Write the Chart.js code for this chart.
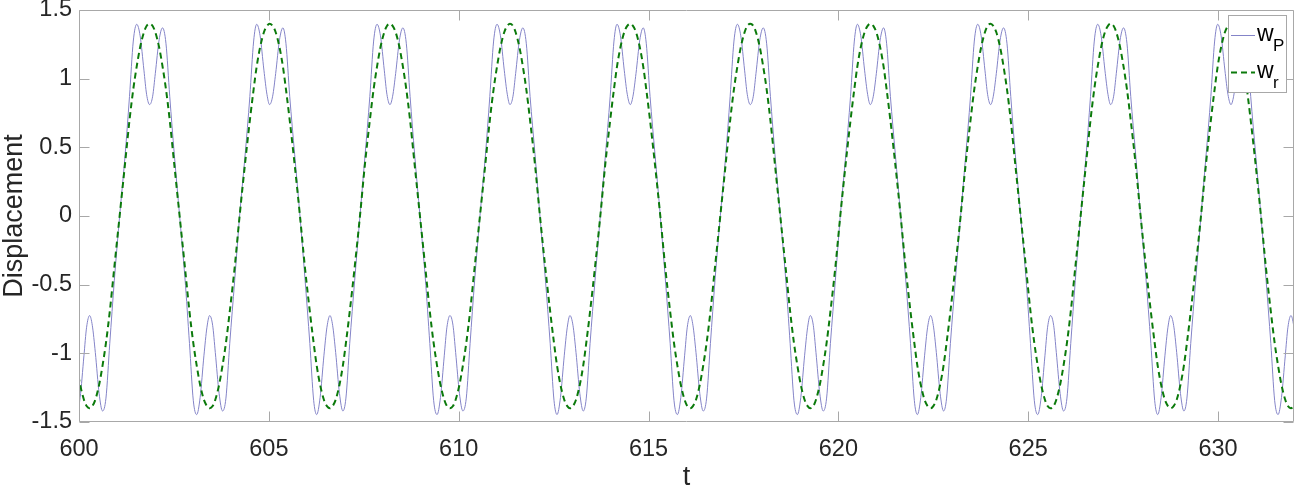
<!DOCTYPE html>
<html>
<head>
<meta charset="utf-8">
<script src="https://cdn.jsdelivr.net/npm/chart.js@4.4.1/dist/chart.umd.min.js"></script>
<style>
  html, body { margin: 0; padding: 0; background: #fff; }
</style>
</head>
<body>
<canvas id="disp_chart" width="1298" height="489"></canvas>
<script>
// tick labels
var xTicks = [600, 605, 610, 615, 620, 625, 630];
var yTicks = [-1.5, -1, -0.5, 0, 0.5, 1, 1.5];

// time samples (one row per half period)
var tValues = [
  599.85, 599.94, 600.03, 600.13, 600.20, 600.28, 600.35, 600.43, 600.53, 600.62, 600.71, 600.81, 600.93,
  601.07, 601.21, 601.33, 601.43, 601.52, 601.61, 601.71, 601.78, 601.86, 601.94, 602.01, 602.11, 602.20, 602.29, 602.39, 602.51,
  602.65, 602.79, 602.91, 603.01, 603.10, 603.19, 603.29, 603.37, 603.44, 603.52, 603.59, 603.69, 603.78, 603.87, 603.97, 604.10,
  604.23, 604.37, 604.50, 604.60, 604.68, 604.77, 604.87, 604.95, 605.02, 605.10, 605.18, 605.28, 605.37, 605.45, 605.55, 605.68,
  605.82, 605.95, 606.08, 606.18, 606.26, 606.35, 606.45, 606.53, 606.61, 606.68, 606.76, 606.86, 606.95, 607.03, 607.13, 607.26,
  607.40, 607.53, 607.66, 607.76, 607.85, 607.94, 608.04, 608.11, 608.19, 608.26, 608.34, 608.44, 608.53, 608.62, 608.72, 608.84,
  608.98, 609.12, 609.24, 609.34, 609.43, 609.52, 609.62, 609.69, 609.77, 609.85, 609.92, 610.02, 610.11, 610.20, 610.30, 610.42,
  610.56, 610.70, 610.82, 610.92, 611.01, 611.10, 611.20, 611.28, 611.35, 611.43, 611.50, 611.60, 611.69, 611.78, 611.88, 612.01,
  612.14, 612.28, 612.41, 612.51, 612.59, 612.68, 612.78, 612.86, 612.93, 613.01, 613.09, 613.19, 613.28, 613.36, 613.46, 613.59,
  613.73, 613.86, 613.99, 614.09, 614.17, 614.26, 614.36, 614.44, 614.52, 614.59, 614.67, 614.77, 614.86, 614.94, 615.04, 615.17,
  615.31, 615.44, 615.57, 615.67, 615.76, 615.85, 615.95, 616.02, 616.10, 616.17, 616.25, 616.35, 616.44, 616.53, 616.63, 616.75,
  616.89, 617.03, 617.15, 617.25, 617.34, 617.43, 617.53, 617.60, 617.68, 617.76, 617.83, 617.93, 618.02, 618.11, 618.21, 618.33,
  618.47, 618.61, 618.73, 618.83, 618.92, 619.01, 619.11, 619.19, 619.26, 619.34, 619.41, 619.51, 619.60, 619.69, 619.79, 619.92,
  620.05, 620.19, 620.32, 620.42, 620.50, 620.59, 620.69, 620.77, 620.84, 620.92, 621.00, 621.10, 621.19, 621.27, 621.37, 621.50,
  621.64, 621.77, 621.90, 622.00, 622.08, 622.17, 622.27, 622.35, 622.43, 622.50, 622.58, 622.68, 622.77, 622.85, 622.95, 623.08,
  623.22, 623.35, 623.48, 623.58, 623.67, 623.76, 623.86, 623.93, 624.01, 624.08, 624.16, 624.26, 624.35, 624.44, 624.54, 624.66,
  624.80, 624.94, 625.06, 625.16, 625.25, 625.34, 625.44, 625.51, 625.59, 625.67, 625.74, 625.84, 625.93, 626.02, 626.12, 626.24,
  626.38, 626.52, 626.64, 626.74, 626.83, 626.92, 627.02, 627.10, 627.17, 627.25, 627.32, 627.42, 627.51, 627.60, 627.70, 627.83,
  627.96, 628.10, 628.23, 628.33, 628.41, 628.50, 628.60, 628.68, 628.75, 628.83, 628.91, 629.01, 629.10, 629.18, 629.28, 629.41,
  629.55, 629.68, 629.81, 629.91, 629.99, 630.08, 630.18, 630.26, 630.34, 630.41, 630.49, 630.59, 630.68, 630.76, 630.86, 630.99,
  631.13, 631.26, 631.39, 631.49, 631.58, 631.67, 631.77, 631.84, 631.92, 631.99, 632.07, 632.17
];

// w_P : double humped response
var wP = [
  -1.342, -1.446, -1.322, -1.018, -0.810, -0.725, -0.796, -0.994, -1.292, -1.420, -1.326, -0.929, -0.471,
  0, 0.429, 0.871, 1.274, 1.396, 1.312, 1.062, 0.886, 0.811, 0.872, 1.038, 1.282, 1.370, 1.258, 0.871, 0.449,
  0, -0.451, -0.929, -1.342, -1.446, -1.322, -1.018, -0.810, -0.725, -0.796, -0.994, -1.292, -1.420, -1.326, -0.929, -0.471,
  0, 0.429, 0.871, 1.274, 1.396, 1.312, 1.062, 0.886, 0.811, 0.872, 1.038, 1.282, 1.370, 1.258, 0.871, 0.449,
  0, -0.451, -0.929, -1.342, -1.446, -1.322, -1.018, -0.810, -0.725, -0.796, -0.994, -1.292, -1.420, -1.326, -0.929, -0.471,
  0, 0.429, 0.871, 1.274, 1.396, 1.312, 1.062, 0.886, 0.811, 0.872, 1.038, 1.282, 1.370, 1.258, 0.871, 0.449,
  0, -0.451, -0.929, -1.342, -1.446, -1.322, -1.018, -0.810, -0.725, -0.796, -0.994, -1.292, -1.420, -1.326, -0.929, -0.471,
  0, 0.429, 0.871, 1.274, 1.396, 1.312, 1.062, 0.886, 0.811, 0.872, 1.038, 1.282, 1.370, 1.258, 0.871, 0.449,
  0, -0.451, -0.929, -1.342, -1.446, -1.322, -1.018, -0.810, -0.725, -0.796, -0.994, -1.292, -1.420, -1.326, -0.929, -0.471,
  0, 0.429, 0.871, 1.274, 1.396, 1.312, 1.062, 0.886, 0.811, 0.872, 1.038, 1.282, 1.370, 1.258, 0.871, 0.449,
  0, -0.451, -0.929, -1.342, -1.446, -1.322, -1.018, -0.810, -0.725, -0.796, -0.994, -1.292, -1.420, -1.326, -0.929, -0.471,
  0, 0.429, 0.871, 1.274, 1.396, 1.312, 1.062, 0.886, 0.811, 0.872, 1.038, 1.282, 1.370, 1.258, 0.871, 0.449,
  0, -0.451, -0.929, -1.342, -1.446, -1.322, -1.018, -0.810, -0.725, -0.796, -0.994, -1.292, -1.420, -1.326, -0.929, -0.471,
  0, 0.429, 0.871, 1.274, 1.396, 1.312, 1.062, 0.886, 0.811, 0.872, 1.038, 1.282, 1.370, 1.258, 0.871, 0.449,
  0, -0.451, -0.929, -1.342, -1.446, -1.322, -1.018, -0.810, -0.725, -0.796, -0.994, -1.292, -1.420, -1.326, -0.929, -0.471,
  0, 0.429, 0.871, 1.274, 1.396, 1.312, 1.062, 0.886, 0.811, 0.872, 1.038, 1.282, 1.370, 1.258, 0.871, 0.449,
  0, -0.451, -0.929, -1.342, -1.446, -1.322, -1.018, -0.810, -0.725, -0.796, -0.994, -1.292, -1.420, -1.326, -0.929, -0.471,
  0, 0.429, 0.871, 1.274, 1.396, 1.312, 1.062, 0.886, 0.811, 0.872, 1.038, 1.282, 1.370, 1.258, 0.871, 0.449,
  0, -0.451, -0.929, -1.342, -1.446, -1.322, -1.018, -0.810, -0.725, -0.796, -0.994, -1.292, -1.420, -1.326, -0.929, -0.471,
  0, 0.429, 0.871, 1.274, 1.396, 1.312, 1.062, 0.886, 0.811, 0.872, 1.038, 1.282, 1.370, 1.258, 0.871, 0.449,
  0, -0.451, -0.929, -1.342, -1.446, -1.322, -1.018, -0.810, -0.725, -0.796, -0.994, -1.292
];

// w_r : smooth reference
var wR = [
  -0.924, -1.089, -1.229, -1.338, -1.384, -1.4, -1.384, -1.338, -1.229, -1.089, -0.924, -0.697, -0.374,
  0, 0.374, 0.697, 0.924, 1.089, 1.229, 1.338, 1.384, 1.4, 1.384, 1.338, 1.229, 1.089, 0.924, 0.697, 0.374,
  0, -0.374, -0.697, -0.924, -1.089, -1.229, -1.338, -1.384, -1.4, -1.384, -1.338, -1.229, -1.089, -0.924, -0.697, -0.374,
  0, 0.374, 0.697, 0.924, 1.089, 1.229, 1.338, 1.384, 1.4, 1.384, 1.338, 1.229, 1.089, 0.924, 0.697, 0.374,
  0, -0.374, -0.697, -0.924, -1.089, -1.229, -1.338, -1.384, -1.4, -1.384, -1.338, -1.229, -1.089, -0.924, -0.697, -0.374,
  0, 0.374, 0.697, 0.924, 1.089, 1.229, 1.338, 1.384, 1.4, 1.384, 1.338, 1.229, 1.089, 0.924, 0.697, 0.374,
  0, -0.374, -0.697, -0.924, -1.089, -1.229, -1.338, -1.384, -1.4, -1.384, -1.338, -1.229, -1.089, -0.924, -0.697, -0.374,
  0, 0.374, 0.697, 0.924, 1.089, 1.229, 1.338, 1.384, 1.4, 1.384, 1.338, 1.229, 1.089, 0.924, 0.697, 0.374,
  0, -0.374, -0.697, -0.924, -1.089, -1.229, -1.338, -1.384, -1.4, -1.384, -1.338, -1.229, -1.089, -0.924, -0.697, -0.374,
  0, 0.374, 0.697, 0.924, 1.089, 1.229, 1.338, 1.384, 1.4, 1.384, 1.338, 1.229, 1.089, 0.924, 0.697, 0.374,
  0, -0.374, -0.697, -0.924, -1.089, -1.229, -1.338, -1.384, -1.4, -1.384, -1.338, -1.229, -1.089, -0.924, -0.697, -0.374,
  0, 0.374, 0.697, 0.924, 1.089, 1.229, 1.338, 1.384, 1.4, 1.384, 1.338, 1.229, 1.089, 0.924, 0.697, 0.374,
  0, -0.374, -0.697, -0.924, -1.089, -1.229, -1.338, -1.384, -1.4, -1.384, -1.338, -1.229, -1.089, -0.924, -0.697, -0.374,
  0, 0.374, 0.697, 0.924, 1.089, 1.229, 1.338, 1.384, 1.4, 1.384, 1.338, 1.229, 1.089, 0.924, 0.697, 0.374,
  0, -0.374, -0.697, -0.924, -1.089, -1.229, -1.338, -1.384, -1.4, -1.384, -1.338, -1.229, -1.089, -0.924, -0.697, -0.374,
  0, 0.374, 0.697, 0.924, 1.089, 1.229, 1.338, 1.384, 1.4, 1.384, 1.338, 1.229, 1.089, 0.924, 0.697, 0.374,
  0, -0.374, -0.697, -0.924, -1.089, -1.229, -1.338, -1.384, -1.4, -1.384, -1.338, -1.229, -1.089, -0.924, -0.697, -0.374,
  0, 0.374, 0.697, 0.924, 1.089, 1.229, 1.338, 1.384, 1.4, 1.384, 1.338, 1.229, 1.089, 0.924, 0.697, 0.374,
  0, -0.374, -0.697, -0.924, -1.089, -1.229, -1.338, -1.384, -1.4, -1.384, -1.338, -1.229, -1.089, -0.924, -0.697, -0.374,
  0, 0.374, 0.697, 0.924, 1.089, 1.229, 1.338, 1.384, 1.4, 1.384, 1.338, 1.229, 1.089, 0.924, 0.697, 0.374,
  0, -0.374, -0.697, -0.924, -1.089, -1.229, -1.338, -1.384, -1.4, -1.384, -1.338, -1.229
];

var FONT = "'Liberation Sans', Arial, Helvetica, sans-serif";
var colP = "#8484c8";
var colR = "#0b7a0b";
var frameCol = "#a8a8a8";
var textCol = "#262626";

function toPoints(ys) {
  return tValues.map(function (t, i) { return {x: t, y: ys[i]}; });
}

// matlab-ish box, inward ticks, and the little legend with subscripts
var axesBox = {
  id: 'axesBox',
  afterDraw: function (chart) {
    var ctx = chart.ctx, a = chart.chartArea;
    var xs = chart.scales.x, ys = chart.scales.y;
    var L = Math.round(a.left) + 0.5, R = Math.round(a.right) - 0.5;
    var T = Math.round(a.top) + 0.5, B = Math.round(a.bottom) - 0.5;
    var tl = 10;
    ctx.save();
    ctx.strokeStyle = frameCol;
    ctx.lineWidth = 1;
    ctx.beginPath();
    ctx.rect(L, T, R - L, B - T);
    xTicks.forEach(function (v) {
      var px = Math.round(xs.getPixelForValue(v)) + 0.5;
      ctx.moveTo(px, B); ctx.lineTo(px, B - tl);
      ctx.moveTo(px, T); ctx.lineTo(px, T + tl);
    });
    yTicks.forEach(function (v) {
      var py = Math.round(ys.getPixelForValue(v)) + 0.5;
      ctx.moveTo(L, py); ctx.lineTo(L + tl, py);
      ctx.moveTo(R, py); ctx.lineTo(R - tl, py);
    });
    ctx.stroke();

    // legend
    var bx = 1228.5, by = 15.5, bw = 58, bh = 77;
    ctx.fillStyle = "#fff";
    ctx.fillRect(bx, by, bw, bh);
    ctx.strokeRect(bx, by, bw, bh);
    var rows = [
      {y: 35, col: colP, w: 1, dash: [], sub: "P"},
      {y: 72, col: colR, w: 2, dash: [6, 4], sub: "r"}
    ];
    rows.forEach(function (r) {
      ctx.strokeStyle = r.col;
      ctx.lineWidth = r.w;
      ctx.setLineDash(r.dash);
      ctx.beginPath();
      ctx.moveTo(1231, r.y + 0.5);
      ctx.lineTo(1255, r.y + 0.5);
      ctx.stroke();
      ctx.setLineDash([]);
      ctx.fillStyle = "#000";
      ctx.textBaseline = "alphabetic";
      ctx.textAlign = "left";
      ctx.font = "23px " + FONT;
      ctx.fillText("w", 1257, r.y + 6);
      ctx.font = "17px " + FONT;
      ctx.fillText(r.sub, 1273, r.y + 16);
    });
    ctx.restore();
  }
};

var ctx = document.getElementById("disp_chart");
var dispChart = new Chart(ctx, {
  type: 'line',
  data: {
    datasets: [{
      label: "w_P",
      data: toPoints(wP),
      borderColor: colP,
      borderWidth: 1,
      pointRadius: 0,
      fill: false,
      cubicInterpolationMode: 'monotone',
      order: 1
    }, {
      label: "w_r",
      data: toPoints(wR),
      borderColor: colR,
      borderWidth: 2,
      borderDash: [6, 4],
      pointRadius: 0,
      fill: false,
      cubicInterpolationMode: 'monotone',
      order: 0
    }]
  },
  options: {
    responsive: false,
    animation: false,
    events: [],
    layout: {
      padding: {top: 10, right: 4, left: 0, bottom: 0}
    },
    plugins: {
      legend: {display: false},
      tooltip: {enabled: false}
    },
    scales: {
      x: {
        type: 'linear',
        min: 600,
        max: 632,
        afterBuildTicks: function (s) { s.ticks = xTicks.map(function (v) { return {value: v}; }); },
        afterFit: function (s) { s.height = 67; s.paddingLeft = 0; s.paddingRight = 0; },
        grid: {display: false, drawTicks: false},
        border: {display: false},
        ticks: {
          color: textCol,
          padding: 13,
          maxRotation: 0,
          font: {family: FONT, size: 23.5},
          callback: function (v) { return String(v); }
        },
        title: {
          display: true,
          text: 't',
          color: textCol,
          padding: 0,
          font: {family: FONT, size: 27, lineHeight: 0.84}
        }
      },
      y: {
        min: -1.5,
        max: 1.5,
        afterBuildTicks: function (s) { s.ticks = yTicks.map(function (v) { return {value: v}; }); },
        afterFit: function (s) { s.width = 79; s.paddingTop = 0; s.paddingBottom = 0; },
        grid: {display: false, drawTicks: false},
        border: {display: false},
        ticks: {
          color: textCol,
          padding: 7,
          font: {family: FONT, size: 23.5},
          callback: function (v) { return String(v); }
        },
        title: {
          display: true,
          text: 'Displacement',
          color: textCol,
          padding: 0,
          font: {family: FONT, size: 27, lineHeight: 1.1}
        }
      }
    }
  },
  plugins: [axesBox]
});
</script>
</body>
</html>
